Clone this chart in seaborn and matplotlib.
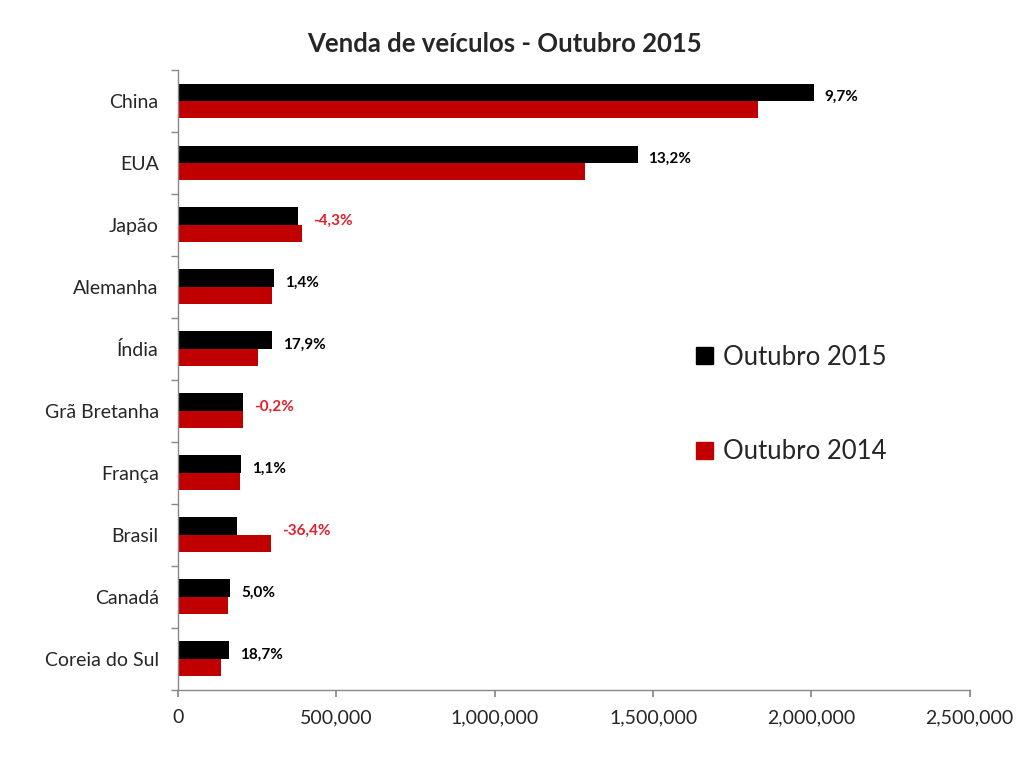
import matplotlib
import matplotlib.pyplot as plt
import numpy as np
import pandas as pd
import seaborn as sns
from matplotlib.ticker import FuncFormatter, FixedLocator

matplotlib.use("Agg")

PRETO = "#000000"
VERMELHO = "#C00000"
VERMELHO_TXT = "#E0202A"

paises = ["China", "EUA", "Japão", "Alemanha", "Índia", "Grã Bretanha",
          "França", "Brasil", "Canadá", "Coreia do Sul"]
vendas_2015 = [2009000, 1452000, 377000, 304000, 297000, 206000,
               199000, 187000, 165000, 161000]
vendas_2014 = [1832000, 1285000, 392000, 297000, 253000, 206000,
               196000, 294000, 158000, 136000]
variacao = ["9,7%", "13,2%", "-4,3%", "1,4%", "17,9%", "-0,2%",
            "1,1%", "-36,4%", "5,0%", "18,7%"]
negativo = [False, False, True, False, False, True, False, True, False, False]

series = ["Outubro 2015", "Outubro 2014"]

df = pd.DataFrame({
    "pais": paises * 2,
    "vendas": vendas_2015 + vendas_2014,
    "serie": [series[0]] * len(paises) + [series[1]] * len(paises),
})

sns.set_theme(style="white")
plt.rcParams["font.family"] = ["Lato", "DejaVu Sans"]

fig = plt.figure(figsize=(10.24, 7.68), dpi=100)
fig.patch.set_facecolor("white")
ax = fig.add_axes([0.174, 0.102, 0.773, 0.807])

sns.barplot(data=df, x="vendas", y="pais", hue="serie", order=paises,
            hue_order=series, palette=[PRETO, VERMELHO], orient="h",
            width=0.56, saturation=1, linewidth=0, ax=ax, legend=False)

ax.set_xlim(0, 2500000)
ax.set_ylim(len(paises) - 0.5, -0.5)
ax.set_xticks(np.arange(0, 2500001, 500000))
ax.xaxis.set_major_formatter(FuncFormatter(lambda v, p: f"{int(v):,}"))
ax.set_xlabel("")
ax.set_ylabel("")
ax.tick_params(axis="x", labelsize=14, length=5, direction="out",
               color="#888888", bottom=True, pad=9)
ax.tick_params(axis="y", which="major", labelsize=14, length=0, pad=14)
ax.yaxis.set_minor_locator(FixedLocator(np.arange(-0.5, len(paises), 1.0)))
ax.tick_params(axis="y", which="minor", length=5, direction="out",
               color="#888888", left=True)

for lado in ["top", "right"]:
    ax.spines[lado].set_visible(False)
for lado in ["left", "bottom"]:
    ax.spines[lado].set_color("#888888")
    ax.spines[lado].set_linewidth(1)

for i, (txt, neg) in enumerate(zip(variacao, negativo)):
    x = max(vendas_2015[i], vendas_2014[i]) + 33000
    ax.text(x, i - 0.06, txt, va="center", ha="left", fontsize=11,
            fontweight="bold", color=VERMELHO_TXT if neg else PRETO)

fig.suptitle("Venda de veículos - Outubro 2015", x=0.493, y=0.958,
             fontsize=18.5, fontweight="bold")

handles = [plt.Rectangle((0, 0), 1, 1, color=PRETO),
           plt.Rectangle((0, 0), 1, 1, color=VERMELHO)]
ax.legend(handles, series, loc="center left", bbox_to_anchor=(0.625, 0.46),
          frameon=False, fontsize=18.5, labelspacing=2.7, handlelength=0.65,
          handleheight=0.65, handletextpad=0.4)

fig.savefig("out.png", dpi=100, facecolor="white")
plt.close(fig)
